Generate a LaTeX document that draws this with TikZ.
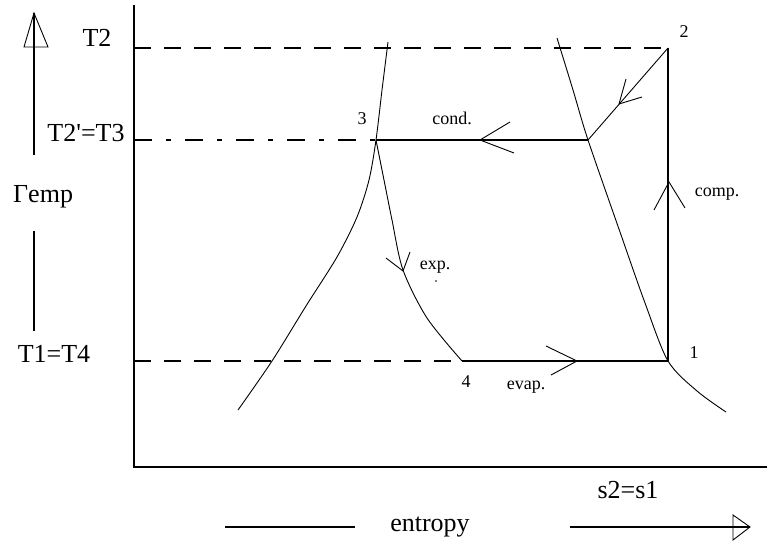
\documentclass[tikz,border=0pt]{standalone}
\usepackage{fontspec}
\setmainfont{Liberation Serif}
\begin{document}
\begin{tikzpicture}[x=1pt,y=-1pt,
  ln/.style={line width=1.2pt},
  thn/.style={line width=0.9pt},
  big/.style={font=\fontsize{26}{28}\selectfont, inner sep=0pt},
  small/.style={font=\fontsize{18}{20}\selectfont, inner sep=0pt},
  dsh/.style={line width=1.1pt, dash pattern=on 17pt off 13pt},
  dshdot/.style={line width=1.1pt, dash pattern=on 18pt off 14pt on 5pt off 14pt}]
\useasboundingbox (0,0) rectangle (767,548);
\fill[white] (0,0) rectangle (767,548);
% frame axes
\coordinate (ytop) at (134,5);
\coordinate (orig) at (134,467);
\coordinate (xend) at (767,467);
\draw[ln] (ytop) -- (orig) -- (xend);
% cycle points
\coordinate (p1) at (668,361);
\coordinate (p2) at (668,48);
\coordinate (p3) at (376,140);
\coordinate (p4) at (462,361);
\coordinate (pv) at (588,140);
\coordinate (a2) at (134,48);
\coordinate (a3) at (134,140);
\coordinate (a1) at (134,361);
% level lines
\draw[dsh] (a2) -- (p2);
\draw[dshdot] (a3) -- (p3);
\draw[dsh] (a1) -- (p4);
\draw[ln] (p3) -- (pv);
\draw[ln] (p4) -- (p1);
\draw[ln] (p1) -- (p2);
\draw[thn] (p2) -- (pv);
% saturation dome
\draw[thn] plot[smooth] coordinates {(238,410) (272,361) (306,306) (337,257) (357,217) (369,180) (376,140) (382,90) (388,42)};
\draw[thn] plot[smooth] coordinates {(557,38) (573,90) (588,140) (620,232) (645,303) (668,361) (697,391) (726,412)};
% expansion
\draw[thn] plot[smooth] coordinates {(376,140) (385,185) (392,220) (403,270) (427,318) (462,361)};
% arrowheads
\coordinate (cT) at (480,140);
\draw[thn] (510,122) -- (cT) -- (514,153);
\coordinate (eT) at (577,361);
\draw[thn] (546,346) -- (eT) -- (551,375);
\coordinate (mT) at (669,182);
\draw[thn] (654,210) -- (mT) -- (685,208);
\coordinate (dT) at (619,104);
\draw[thn] (626,79) -- (dT) -- (642,97);
\coordinate (xT) at (403,271);
\draw[thn] (386,258) -- (xT) -- (410,252);
\fill (436,281) circle (0.8pt);
% labels
\node[small] (l2) at (684,32) {2};
\node[small] (l3) at (362,119) {3};
\node[small] (l1) at (694,353) {1};
\node[small] (l4) at (466,382) {4};
\node[small] (lc) at (452,118) {cond.};
\node[small] (lx) at (435,267) {exp.};
\node[small] (lm) at (717,194) {comp.};
\node[small] (le) at (526,387) {evap.};
\node[big] (T2) at (97,38) {T2};
\node[big] (T3) at (86,133) {T2\textquotesingle=T3};
\node[big, anchor=west] (Tm) at (13,197) {Γemp};
\node[big] (T1) at (54,354) {T1=T4};
\node[big] (s) at (628,490) {s2=s1};
\node[big] (en) at (430,527) {entropy};
% temperature arrow
\coordinate (tt) at (34,13);
\coordinate (tb) at (34,155);
\coordinate (tb2) at (34,231);
\coordinate (tb3) at (34,331);
\draw[ln] (tt) -- (tb);
\draw[ln] (tb2) -- (tb3);
\draw[thn] (tt) -- (24,47) -- (48,47) -- cycle;
% entropy arrow
\coordinate (e1) at (225,527);
\coordinate (e2) at (355,527);
\coordinate (e3) at (570,527);
\coordinate (e4) at (750,527);
\draw[ln] (e1) -- (e2);
\draw[ln] (e3) -- (e4);
\draw[thn] (e4) -- (733,515) -- (733,540) -- cycle;
\end{tikzpicture}
\end{document}
